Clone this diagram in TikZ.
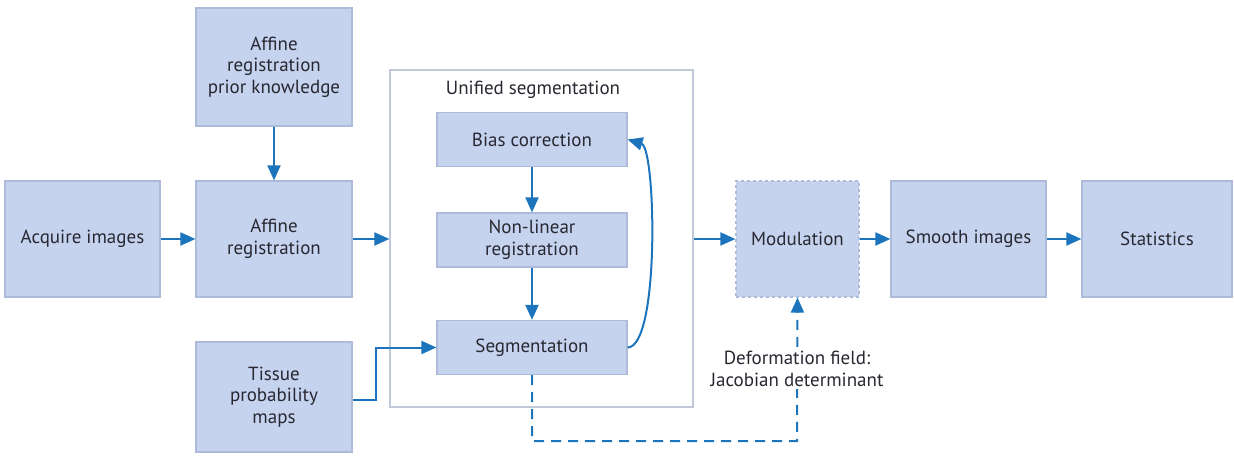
\documentclass[tikz,border=0pt]{standalone}
\usepackage{fontspec}
\setmainfont{PT Sans}
\usetikzlibrary{arrows.meta,calc}
\definecolor{boxfill}{RGB}{198,211,238}
\definecolor{boxdraw}{RGB}{172,187,218}
\definecolor{arr}{RGB}{28,117,188}
\definecolor{txt}{RGB}{40,40,50}
\definecolor{outerc}{RGB}{192,200,218}
\tikzset{
  bx/.style={draw=boxdraw, line width=1.2pt, fill=boxfill, inner sep=0pt, align=center, text=txt,
    font=\fontsize{19}{21.7}\selectfont},
  link/.style={draw=arr, line width=2pt, -{Triangle[length=15pt,width=13pt]}},
  dlink/.style={link, dash pattern=on 10pt off 7pt},
  lbl/.style={text=txt, font=\fontsize{19}{21.7}\selectfont, align=center}
}
\begin{document}
\begin{tikzpicture}[x=1pt,y=-1pt]
\useasboundingbox (0,0) rectangle (1234,457);
% outer
\node[draw=outerc, line width=1.2pt, minimum width=303pt, minimum height=337pt, inner sep=0pt] (outer) at (541.5,238.5) {};
\node[lbl] (title) at (533,90) {Unified segmentation};
% boxes
\node[bx, minimum width=155pt, minimum height=116pt] (acq) at (82.5,239) {Acquire images};
\node[bx, minimum width=156pt, minimum height=116pt] (aff) at (274,239) {Affine\\registration};
\node[bx, minimum width=156pt, minimum height=118pt] (prior) at (274,67) {Affine\\registration\\prior knowledge};
\node[bx, minimum width=156pt, minimum height=110pt] (tpm) at (274,397) {Tissue\\probability\\maps};
\node[bx, minimum width=190pt, minimum height=54pt] (bias) at (532,139.5) {Bias correction};
\node[bx, minimum width=190pt, minimum height=54pt] (nl) at (532,240) {Non-linear\\registration};
\node[bx, minimum width=190pt, minimum height=54pt] (seg) at (532,347.5) {Segmentation};
\node[bx, dashed, minimum width=123pt, minimum height=116pt] (mod) at (797.5,239) {Modulation};
\node[bx, minimum width=155pt, minimum height=116pt] (smooth) at (968.5,239) {Smooth images};
\node[bx, minimum width=150pt, minimum height=116pt] (stats) at (1157,239) {Statistics};
% connectors
\draw[link] (acq) -- (aff);
\draw[link] (prior) -- (aff);
\draw[link] (aff.east) -- (aff.east -| outer.west);
\draw[link] (outer.east |- mod.west) -- (mod.west);
\draw[link] (mod) -- (smooth);
\draw[link] (smooth) -- (stats);
\draw[link] (bias) -- (nl);
\draw[link] (nl) -- (seg);
\coordinate (tbend) at (376,400);
\draw[link] (tpm.east |- tbend) -- (tbend) |- (seg.west);
\draw[link] (seg.east) .. controls (660,347) and (656,148) .. (bias.east);
\coordinate (dcorner) at (797,441);
\draw[dlink] (seg.south) |- (dcorner) -- (mod.south);
\node[lbl, fill=white, inner sep=2pt] (dlab) at (797,369) {Deformation field:\\Jacobian determinant};
\end{tikzpicture}
\end{document}
